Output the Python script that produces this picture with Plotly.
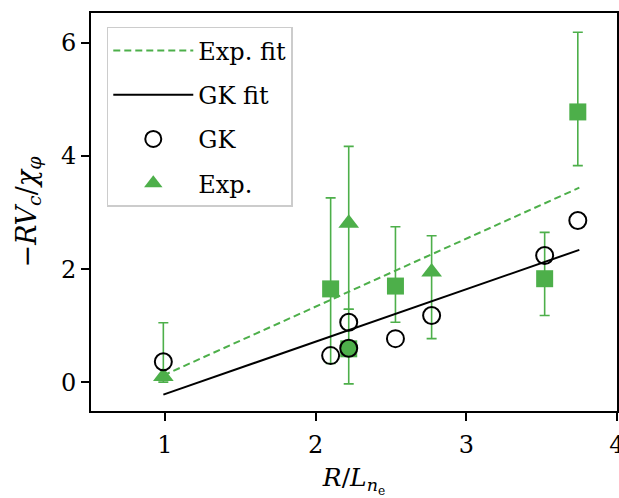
import plotly.graph_objects as go

GREEN = "#4daf4a"

# GK simulation points
gk_x = [0.99, 2.10, 2.22, 2.22, 2.53, 2.77, 3.52, 3.74]
gk_y = [0.36, 0.47, 1.06, 0.60, 0.77, 1.18, 2.24, 2.86]

# Experimental points (triangles)
tri_x = [0.99, 2.22, 2.77]
tri_y = [0.10, 2.81, 1.95]
tri_up = [0.95, 1.36, 0.64]
tri_dn = [0.10, 1.52, 1.18]

# Experimental points (squares)
sq_x = [2.10, 2.22, 2.53, 3.52, 3.74]
sq_y = [1.65, 0.59, 1.70, 1.83, 4.78]
sq_up = [1.61, 0.70, 1.05, 0.82, 1.41]
sq_dn = [1.32, 0.62, 0.64, 0.65, 0.95]

# Fit lines (endpoints)
fit_x = [0.99, 3.75]
gk_fit_y = [-0.22, 2.34]
exp_fit_y = [0.12, 3.44]

x_ticks = [1, 2, 3, 4]
y_ticks = [0, 2, 4, 6]

FONT = "DejaVu Serif"
FS = 24

fig = go.Figure()

fig.add_trace(go.Scatter(
    x=sq_x, y=sq_y, mode="markers", showlegend=False,
    marker=dict(symbol="square", size=17, color=GREEN),
    error_y=dict(type="data", array=sq_up, arrayminus=sq_dn, color=GREEN,
                 thickness=1.6, width=5),
))
fig.add_trace(go.Scatter(
    x=tri_x, y=tri_y, mode="markers", name="Exp.", legendrank=4, legendgroup="d",
    marker=dict(symbol="triangle-up", size=18, color=GREEN),
    error_y=dict(type="data", array=tri_up, arrayminus=tri_dn, color=GREEN,
                 thickness=1.6, width=5),
))
fig.add_trace(go.Scatter(
    x=fit_x, y=exp_fit_y, mode="lines", name="Exp. fit", legendrank=1, legendgroup="a",
    line=dict(color=GREEN, width=2, dash="7px,4px"),
))
fig.add_trace(go.Scatter(
    x=fit_x, y=gk_fit_y, mode="lines", name="GK fit", legendrank=2, legendgroup="b",
    line=dict(color="black", width=2),
))
fig.add_trace(go.Scatter(
    x=gk_x, y=gk_y, mode="markers", name="GK", legendrank=3, legendgroup="c",
    marker=dict(symbol="circle-open", size=17, color="black", line=dict(width=2)),
))

axis_common = dict(
    showline=True, linecolor="black", linewidth=1.6, mirror=True,
    ticks="outside", ticklen=8, tickwidth=1.6, tickcolor="black",
    showgrid=False, zeroline=False, automargin=False,
    ticklabeloverflow="allow",
    tickfont=dict(family=FONT, size=FS, color="black"),
)

fig.update_layout(
    width=619, height=498,
    margin=dict(l=91, r=2, t=13, b=87, autoexpand=False),
    plot_bgcolor="white", paper_bgcolor="white",
    font=dict(family=FONT, size=FS, color="black"),
    xaxis=dict(range=[0.51, 4.0], tickvals=x_ticks, ticklabelstandoff=3,
               title=dict(text="<i>R</i>/<i>L</i><sub><i>n</i><sub>e</sub></sub>",
                          font=dict(family=FONT, size=FS + 1), standoff=13),
               **axis_common),
    yaxis=dict(range=[-0.51, 6.53], tickvals=y_ticks, ticklabelstandoff=0,
               title=dict(text="−<i>RV</i><sub><i>c</i></sub>/<i>χ</i><sub><i>φ</i></sub>",
                          font=dict(family=FONT, size=27), standoff=17),
               **axis_common),
    legend=dict(x=0.03, y=0.965, xanchor="left", yanchor="top",
                bgcolor="rgba(255,255,255,0.85)", bordercolor="#cccccc", borderwidth=1.5,
                font=dict(family=FONT, size=FS), traceorder="grouped", tracegroupgap=10,
                itemwidth=80),
)

fig.write_html("out.html", config={"displayModeBar": False},
               post_script="document.body.style.margin='0';")
